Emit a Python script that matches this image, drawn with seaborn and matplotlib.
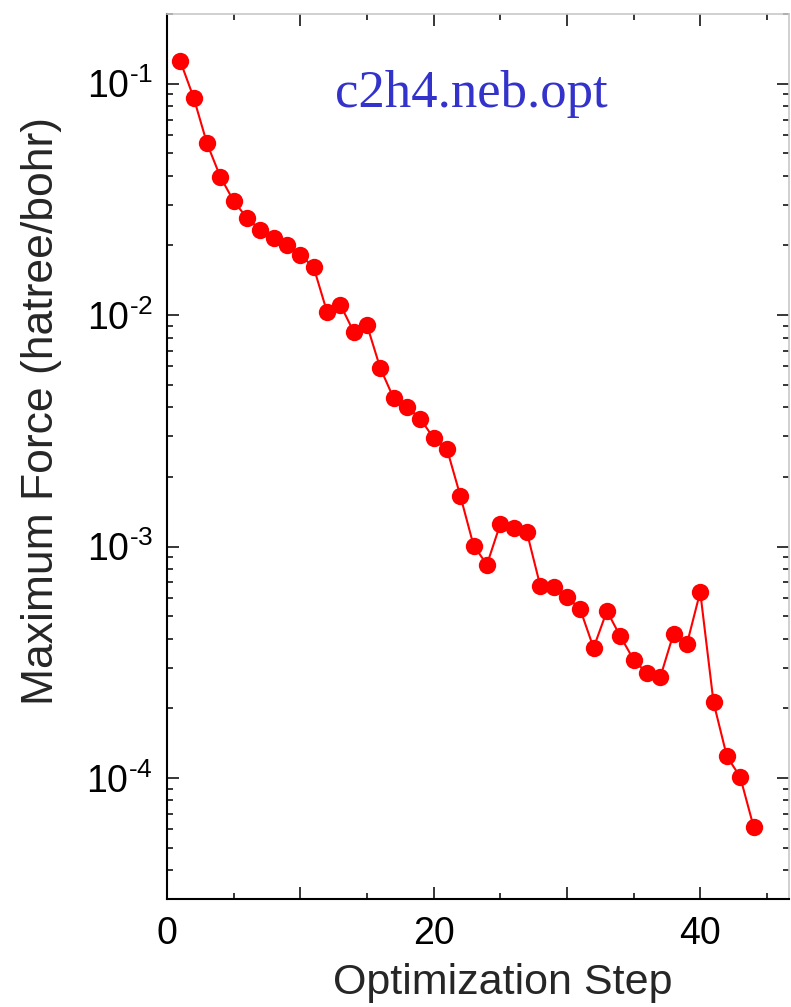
import matplotlib
matplotlib.use("Agg")
import matplotlib.pyplot as plt
import matplotlib.ticker as mticker
import seaborn as sns
import pandas as pd
import numpy as np

# ---- data ----
steps = list(range(1, 45))
max_force = [
    0.125, 0.087, 0.0552, 0.0396, 0.0311, 0.0263, 0.0233, 0.0216, 0.0201, 0.0182,
    0.0161, 0.01035, 0.0111, 0.00848, 0.00906, 0.0059, 0.00438, 0.00401, 0.00357, 0.00294,
    0.00264, 0.00166, 0.00101, 0.000836, 0.00125, 0.00120, 0.00115, 0.000677, 0.00067, 0.000607,
    0.000535, 0.000365, 0.000527, 0.00041, 0.000325, 0.000283, 0.000272, 0.000421, 0.000379, 0.000637,
    0.000212, 0.000124, 0.000101, 6.17e-5,
]
x_major_ticks = [0, 10, 20, 30, 40]
x_tick_labels = ["0", "", "20", "", "40"]
title_text = "c2h4.neb.opt"
x_label = "Optimization Step"
y_label = "Maximum Force (hatree/bohr)"

df = pd.DataFrame({"step": steps, "force": max_force})

sns.set_style("ticks")
plt.rcParams["font.family"] = ["Liberation Sans", "DejaVu Sans"]
plt.rcParams["mathtext.fontset"] = "custom"
plt.rcParams["mathtext.rm"] = "Liberation Sans"
plt.rcParams["mathtext.it"] = "Liberation Sans:italic"
plt.rcParams["mathtext.bf"] = "Liberation Sans:bold"

W, H = 791, 1007
fig = plt.figure(figsize=(W / 100, H / 100), dpi=100)
left_px, right_px, top_px, bottom_px = 167, 789, 14, 899
ax = fig.add_axes([left_px / W, (H - bottom_px) / H,
                   (right_px - left_px) / W, (bottom_px - top_px) / H])

sns.lineplot(data=df, x="step", y="force", ax=ax, color="#ff0000",
             marker="o", markersize=12.5, markeredgewidth=0, linewidth=1.5)

ax.set_yscale("log")
ax.set_xlim(0, 46.66)
ax.set_ylim(3e-5, 0.2)


def log_fmt(v, pos):
    k = int(round(np.log10(v)))
    return r"$\mathdefault{10^{\text{-}%d}}$" % (-k) if k < 0 else r"$\mathdefault{10^{%d}}$" % k


ax.xaxis.set_major_locator(mticker.FixedLocator(x_major_ticks))
ax.xaxis.set_major_formatter(mticker.FixedFormatter(x_tick_labels))
ax.xaxis.set_minor_locator(mticker.MultipleLocator(5))
ax.yaxis.set_major_locator(mticker.LogLocator(base=10, numticks=20))
ax.yaxis.set_major_formatter(mticker.FuncFormatter(log_fmt))
ax.yaxis.set_minor_locator(mticker.LogLocator(base=10, subs=range(2, 10), numticks=20))
ax.yaxis.set_minor_formatter(mticker.NullFormatter())

ax.tick_params(which="both", direction="in", top=True, right=True,
               colors="black", labelsize=27)
ax.tick_params(which="major", length=8.6, width=1.1)
ax.tick_params(which="minor", length=4.3, width=1.1)
ax.tick_params(axis="x", which="major", pad=12)
ax.tick_params(axis="y", which="major", pad=10)

for s in ["left", "bottom"]:
    ax.spines[s].set_color("black")
    ax.spines[s].set_linewidth(1.5)
for s in ["top", "right"]:
    ax.spines[s].set_color("#c8c8c8")
    ax.spines[s].set_linewidth(1.2)

ax.set_xlabel(x_label, fontsize=31)
ax.set_ylabel(y_label, fontsize=32)
ax.xaxis.set_label_coords(0.540, -0.072)
ax.yaxis.set_label_coords(-0.169, 0.551)

ax.text(0.27, 0.895, title_text, transform=ax.transAxes, ha="left", va="baseline",
        fontsize=38, color="#3333cc", family=["Liberation Serif", "DejaVu Serif"])

fig.savefig("out.png", dpi=100)
